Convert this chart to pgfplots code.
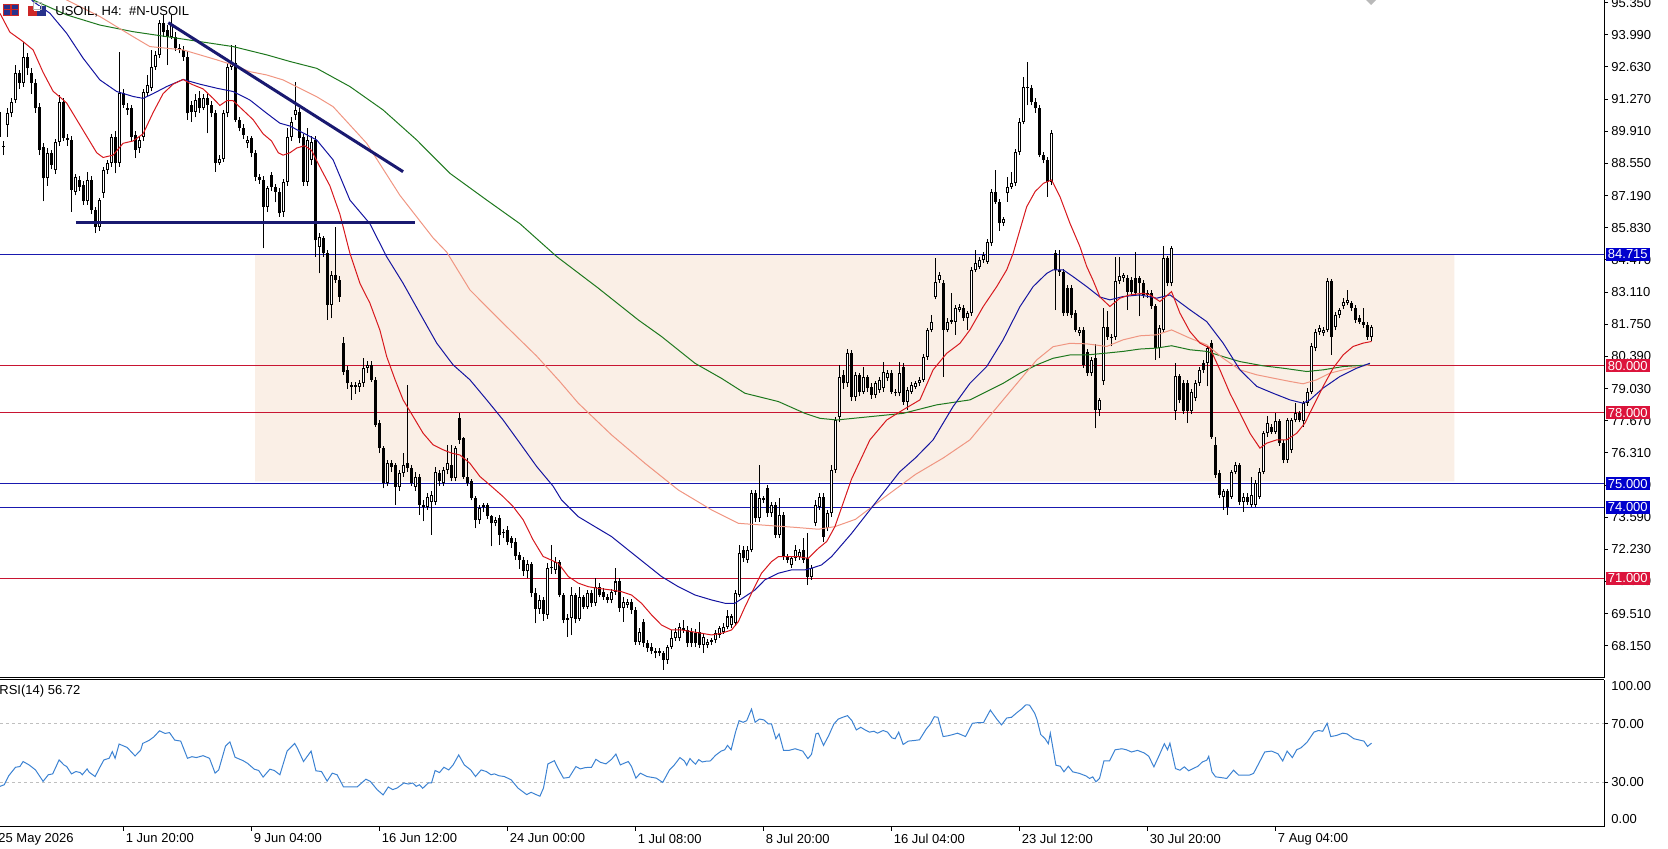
\documentclass[border=0pt]{standalone}
\usepackage{fontspec}
\setmainfont{Liberation Sans}
\usepackage{pgfplots}
\usepackage{pgfplotstable}
\pgfplotsset{compat=1.18}
\definecolor{maRed}{RGB}{215,25,30}
\definecolor{maBlue}{RGB}{20,20,160}
\definecolor{maSalmon}{RGB}{240,150,130}
\definecolor{maGreen}{RGB}{30,120,30}
\definecolor{trendNavy}{RGB}{25,25,112}
\definecolor{lvlBlue}{RGB}{25,25,175}
\definecolor{lvlRed}{RGB}{200,20,50}
\definecolor{boxBlue}{RGB}{0,0,205}
\definecolor{boxRed}{RGB}{220,20,60}
\definecolor{zoneFill}{RGB}{250,239,230}
\definecolor{rsiBlue}{RGB}{60,130,210}
\definecolor{iconRed}{RGB}{205,40,40}
\definecolor{iconBlue}{RGB}{40,50,140}

\pgfplotstableread{
n o h l c
1 89.68 91.00 89.40 90.74
2 89.26 89.50 88.90 89.30
3 90.18 90.88 89.68 90.67
4 90.67 91.30 90.50 91.16
5 91.23 92.71 91.10 92.36
6 92.36 92.50 91.70 91.94
7 91.94 93.70 91.80 93.07
8 93.07 93.20 92.30 92.57
9 92.36 92.60 91.50 91.94
10 91.94 92.10 90.70 90.88
11 90.95 91.10 88.90 89.12
12 89.26 89.40 86.94 87.92
13 87.92 89.20 87.60 88.98
14 88.98 89.10 88.30 88.49
15 88.27 89.60 88.10 89.47
16 89.47 91.45 89.30 91.16
17 91.16 91.30 89.50 89.61
18 89.61 89.80 89.30 89.54
19 89.54 89.70 86.51 87.43
20 87.36 88.10 87.20 87.99
21 87.85 88.00 87.40 87.57
22 87.64 87.80 86.80 86.94
23 86.94 88.20 86.80 87.85
24 87.85 88.00 86.40 86.58
25 86.58 86.70 85.60 85.88
26 85.88 87.10 85.70 87.01
27 87.30 88.40 87.10 88.27
28 88.27 88.70 88.10 88.56
29 88.56 89.80 88.40 89.68
30 89.68 89.90 88.13 88.56
31 88.56 93.28 88.40 91.52
32 91.52 91.70 90.90 91.02
33 90.88 91.10 90.60 90.81
34 90.88 91.00 89.50 89.68
35 89.76 89.90 88.77 89.12
36 89.19 89.70 89.00 89.54
37 89.68 91.70 89.50 91.59
38 91.52 92.29 91.40 91.87
39 91.73 93.35 91.60 92.64
40 92.64 93.30 92.50 93.14
41 93.14 94.60 93.00 94.48
42 94.48 94.83 93.90 94.12
43 94.19 94.40 92.71 93.91
44 93.91 94.83 93.80 94.41
45 93.91 94.10 93.30 93.42
46 93.42 93.60 93.20 93.35
47 93.35 93.50 92.90 93.07
48 93.07 93.30 90.40 90.67
49 91.02 91.20 90.30 90.74
50 90.74 91.50 90.50 91.23
51 91.31 91.60 90.70 90.88
52 90.88 91.50 90.80 91.31
53 91.31 91.50 89.82 91.02
54 91.02 91.20 90.50 90.67
55 90.67 90.80 88.20 88.56
56 88.58 88.90 88.50 88.73
57 88.73 90.80 88.60 90.67
58 90.67 92.80 90.50 92.64
59 92.64 93.56 92.50 92.78
60 92.78 93.56 90.30 90.39
61 90.39 90.50 89.90 90.04
62 90.04 90.20 89.60 89.76
63 89.40 89.70 89.20 89.54
64 89.61 89.70 88.80 88.98
65 88.98 89.10 87.80 87.99
66 87.99 88.10 87.70 87.85
67 87.85 88.00 84.96 86.72
68 86.72 87.60 86.50 87.50
69 88.06 88.20 87.40 87.57
70 87.57 87.70 86.90 87.36
71 87.36 87.50 86.30 86.44
72 86.51 87.90 86.30 87.78
73 87.78 90.04 87.60 89.68
74 89.68 90.50 89.50 90.32
75 90.60 92.00 90.40 90.81
76 90.74 90.90 89.40 89.61
77 89.68 89.80 87.60 87.78
78 87.78 90.04 87.60 89.54
79 88.70 89.70 88.50 89.47
80 89.54 89.70 84.60 85.30
81 85.03 85.60 83.90 85.45
82 85.39 85.50 84.60 84.75
83 84.75 84.90 81.93 82.57
84 82.57 84.00 82.00 83.84
85 83.84 85.88 83.50 83.63
86 83.63 83.80 82.70 82.92
87 80.95 81.20 79.60 79.75
88 79.80 80.00 79.00 79.25
89 79.11 79.30 78.55 79.18
90 79.18 79.30 78.80 79.11
91 79.11 79.40 78.90 79.25
92 79.25 80.30 79.10 79.89
93 79.89 80.20 79.70 80.03
94 80.03 80.20 79.30 79.40
95 79.40 79.50 77.40 77.49
96 77.56 77.70 76.30 76.51
97 76.51 76.60 74.81 75.03
98 75.03 76.00 74.90 75.87
99 75.87 76.00 75.50 75.73
100 75.80 75.90 74.11 74.88
101 74.88 75.60 74.70 75.45
102 75.45 76.29 75.30 75.80
103 75.87 79.18 75.50 75.66
104 75.66 75.80 74.90 75.03
105 74.88 75.50 74.70 75.31
106 75.31 75.40 73.69 74.11
107 74.11 74.30 73.41 74.04
108 74.04 74.60 73.90 74.46
109 74.25 74.70 72.84 74.53
110 74.25 75.70 74.10 75.52
111 75.45 75.60 74.90 75.10
112 75.03 75.70 74.90 75.59
113 75.59 76.65 75.40 75.87
114 75.80 76.65 75.10 75.24
115 75.24 76.60 75.10 76.51
116 77.77 77.98 76.70 76.86
117 76.93 77.00 75.20 75.31
118 75.31 76.08 74.90 75.03
119 75.10 75.20 74.30 74.39
120 74.39 74.50 73.12 73.48
121 73.48 74.10 73.30 73.97
122 74.11 74.20 73.80 74.04
123 74.11 74.20 73.50 73.62
124 73.62 73.70 72.35 73.33
125 73.33 73.60 73.20 73.48
126 73.55 73.70 72.42 72.84
127 72.98 73.10 72.70 72.91
128 73.05 73.20 72.40 72.56
129 72.70 72.80 72.30 72.49
130 72.56 72.70 71.80 71.93
131 72.00 72.10 71.40 71.78
132 71.78 71.90 71.10 71.30
133 71.30 71.80 71.00 71.60
134 71.60 71.70 70.20 70.40
135 70.40 70.60 69.10 69.70
136 69.70 70.30 69.50 70.10
137 70.10 70.20 69.20 69.50
138 69.46 71.64 69.30 71.43
139 71.43 72.42 71.20 71.50
140 71.36 71.90 71.20 71.71
141 71.71 71.80 70.20 70.30
142 70.30 70.40 69.10 69.24
143 69.24 69.50 68.54 69.32
144 69.32 70.65 68.60 70.30
145 70.30 70.40 69.10 69.30
146 69.30 70.65 69.20 70.23
147 70.23 70.30 69.70 69.80
148 69.81 70.50 69.70 70.37
149 70.37 70.50 69.80 69.95
150 69.95 71.01 69.85 70.65
151 70.65 70.80 70.20 70.30
152 70.44 70.60 70.10 70.23
153 70.23 70.35 69.95 70.09
154 70.09 70.55 69.95 70.44
155 70.44 71.43 70.30 70.87
156 70.87 71.00 69.60 69.74
157 69.74 70.20 69.17 70.02
158 69.88 70.15 69.75 70.02
159 70.02 70.15 69.50 69.67
160 69.67 69.80 68.20 68.33
161 68.33 68.90 68.20 68.75
162 69.17 69.30 68.10 68.26
163 68.26 68.40 67.90 68.05
164 68.12 68.25 67.80 67.91
165 67.91 68.05 67.62 67.84
166 67.84 68.05 67.70 67.91
167 67.84 67.95 67.13 67.55
168 67.55 68.20 67.40 68.12
169 68.12 68.82 68.00 68.47
170 68.47 68.90 68.35 68.75
171 68.47 69.10 68.35 68.96
172 68.82 69.24 68.70 68.89
173 68.82 69.00 68.10 68.26
174 68.75 68.90 68.10 68.26
175 68.68 68.85 68.10 68.26
176 68.75 69.17 68.05 68.19
177 68.19 68.65 67.84 68.54
178 68.19 68.45 68.05 68.33
179 68.33 68.50 68.20 68.40
180 68.40 68.80 68.25 68.68
181 68.61 69.00 68.50 68.89
182 68.75 69.10 68.65 68.96
183 68.96 69.67 68.85 69.39
184 69.03 69.50 68.90 69.39
185 69.10 70.50 69.00 70.37
186 70.30 72.42 70.20 72.06
187 72.20 72.35 71.70 71.85
188 71.78 72.35 71.65 72.20
189 72.20 74.75 72.10 74.60
190 74.60 74.75 73.40 73.54
191 73.54 75.80 73.40 74.39
192 74.39 74.50 74.20 74.32
193 74.81 74.95 73.60 73.75
194 73.75 74.25 73.60 74.11
195 74.11 74.25 72.70 72.84
196 72.84 74.39 72.70 73.68
197 73.68 73.80 71.80 71.92
198 71.92 72.05 71.65 71.78
199 71.57 71.95 71.45 71.85
200 71.85 72.42 71.75 72.20
201 71.92 72.25 71.80 72.13
202 72.20 72.70 71.65 71.78
203 71.85 72.91 70.72 71.08
204 71.08 71.55 70.95 71.43
205 73.33 74.32 73.20 74.11
206 74.04 74.60 73.90 74.46
207 74.46 74.60 72.56 72.77
208 73.12 73.90 73.00 73.75
209 73.75 75.80 73.60 75.59
210 75.59 77.84 75.45 77.70
211 77.84 80.03 77.60 79.53
212 79.60 79.80 79.00 79.25
213 79.25 80.70 79.10 80.52
214 80.52 80.66 78.50 78.69
215 78.69 79.75 78.50 79.60
216 79.60 79.70 78.70 78.90
217 78.90 79.96 78.80 79.50
218 79.50 79.60 78.90 79.04
219 79.11 79.25 78.60 78.76
220 78.76 79.35 78.65 79.25
221 78.97 79.50 78.85 79.39
222 79.04 80.17 78.90 79.75
223 79.46 79.80 79.35 79.68
224 79.68 79.80 78.80 78.90
225 78.90 79.00 78.70 78.83
226 78.83 80.17 78.70 79.68
227 79.96 80.10 78.35 78.48
228 78.48 79.10 78.13 78.97
229 78.90 79.30 78.80 79.18
230 79.11 79.35 79.00 79.25
231 79.25 79.50 79.15 79.39
232 79.39 80.50 79.30 80.38
233 80.38 81.60 80.25 81.51
234 81.51 82.14 81.40 81.86
235 82.92 84.54 82.80 83.55
236 83.62 83.95 83.50 83.83
237 83.48 83.60 79.53 81.51
238 81.51 82.00 81.40 81.86
239 81.86 83.06 81.75 81.93
240 81.86 82.55 81.30 82.42
241 82.35 82.60 82.25 82.49
242 82.42 82.55 81.90 82.00
243 82.00 82.30 81.50 82.21
244 82.21 84.15 82.10 84.05
245 84.05 84.89 83.95 84.33
246 84.19 84.60 84.10 84.47
247 84.47 84.80 84.35 84.68
248 84.40 85.35 84.30 85.24
249 85.17 87.45 85.05 87.36
250 87.36 88.27 86.85 86.93
251 86.93 87.05 85.70 86.02
252 86.05 86.30 85.90 86.19
253 87.29 87.99 86.93 87.57
254 87.57 88.20 87.45 87.71
255 87.71 89.15 87.60 89.05
256 89.05 90.45 88.90 90.32
257 90.32 92.22 90.20 91.80
258 91.73 92.85 91.00 91.80
259 91.73 91.85 91.00 91.16
260 91.16 91.30 90.70 90.88
261 90.88 91.00 88.80 88.91
262 88.91 89.05 88.55 88.70
263 88.70 88.80 87.15 87.78
264 87.78 89.96 87.65 89.82
265 84.75 84.89 82.35 84.05
266 83.97 84.89 83.80 84.05
267 83.97 84.10 82.10 82.21
268 83.27 83.40 82.10 82.21
269 83.27 83.40 82.00 82.14
270 82.21 82.35 81.40 81.51
271 81.37 81.65 81.25 81.51
272 81.51 81.65 79.90 80.03
273 80.59 80.70 79.55 79.68
274 79.68 80.35 79.55 80.24
275 80.31 80.90 77.35 78.13
276 78.13 78.65 77.85 78.55
277 79.33 82.43 79.20 81.65
278 81.65 82.29 81.10 81.23
279 81.23 81.35 80.81 81.16
280 81.23 84.61 81.10 83.56
281 83.56 84.61 83.45 83.77
282 83.70 83.91 83.55 83.84
283 83.70 83.85 82.36 83.13
284 83.63 83.75 83.00 83.13
285 83.70 84.82 82.95 83.06
286 83.70 83.80 82.08 83.49
287 83.49 83.60 82.85 82.99
288 82.99 83.20 82.85 83.06
289 83.06 83.20 82.40 82.50
290 82.50 82.60 80.24 80.74
291 80.74 81.70 80.31 81.58
292 81.51 85.04 81.40 84.54
293 84.54 84.65 83.35 83.49
294 83.49 85.04 83.35 84.96
295 78.06 80.10 77.71 79.54
296 79.54 79.65 78.40 78.55
297 79.26 79.40 77.95 78.06
298 79.26 79.40 77.57 78.06
299 78.06 79.00 77.95 78.90
300 78.62 79.40 78.50 79.26
301 79.26 79.95 79.15 79.82
302 80.10 80.25 79.70 79.82
303 80.10 80.85 79.12 80.74
304 80.95 81.10 76.90 77.00
305 76.65 77.00 75.25 75.38
306 75.45 75.60 74.40 74.53
307 74.46 74.80 73.90 74.68
308 74.68 74.80 73.69 74.04
309 74.46 75.60 74.35 75.52
310 75.52 75.94 75.40 75.80
311 75.80 75.90 74.10 74.25
312 74.25 74.60 73.83 74.46
313 74.46 74.60 74.10 74.25
314 74.11 75.31 74.00 74.53
315 74.11 75.15 74.00 75.03
316 74.46 75.65 74.35 75.52
317 75.52 77.25 75.40 77.14
318 77.14 77.85 77.00 77.57
319 77.42 77.55 77.10 77.21
320 77.21 77.99 77.10 77.64
321 77.64 77.75 76.60 76.72
322 76.72 76.85 75.87 76.01
323 76.01 77.80 75.90 77.71
324 76.44 77.80 76.30 77.71
325 77.71 78.41 77.60 77.99
326 77.99 78.10 77.60 77.71
327 77.64 78.50 77.42 78.41
328 78.41 79.05 78.30 78.90
329 78.90 80.95 78.80 80.81
330 80.74 81.55 80.60 81.44
331 81.44 81.70 81.30 81.58
332 81.37 81.65 81.25 81.51
333 81.51 83.70 81.40 83.56
334 83.56 83.65 80.45 81.23
335 81.65 82.25 81.50 82.15
336 82.15 82.45 82.00 82.36
337 82.50 82.85 82.40 82.71
338 82.64 83.20 82.55 82.78
339 82.64 82.75 82.30 82.43
340 82.43 82.55 81.80 81.93
341 82.01 82.15 81.75 81.86
342 81.86 82.43 81.60 81.72
343 81.72 81.85 81.10 81.23
344 81.23 81.70 81.02 81.65
}\candles

\pgfplotsset{
  candlebar/.style={draw=none, no marks, forget plot,
    error bars/.cd, y dir=plus, y explicit, error mark=none,
    error mark options={draw=none, fill=none, mark size=0pt}},
}

\begin{document}
\begin{tikzpicture}[font=\fontsize{6.5}{7.5}\selectfont]
\useasboundingbox (0,0) rectangle (834pt,424pt);
\begin{axis}[
  at={(0pt,85.25pt)}, anchor=south west,
  scale only axis, width=802pt, height=338.75pt,
  xmin=1.125, xmax=402.125, ymin=66.81, ymax=95.46,
  axis x line*=bottom, axis y line*=right,
  axis line style={black, line width=0.5pt},
  xtick=\empty,
  ytick={68.15,69.51,70.87,72.23,73.59,74.95,76.31,77.67,79.03,80.39,81.75,83.11,84.47,85.83,87.19,88.55,89.91,91.27,92.63,93.99,95.35},
  yticklabel={\pgfmathprintnumber[fixed,fixed zerofill,precision=3,assume math mode=true]{\tick}},
  tick align=outside, major tick length=2pt,
  tick style={black, line width=0.5pt},
  every tick label/.append style={font=\fontsize{6.5}{7.5}\selectfont},
  yticklabel style={anchor=west, inner sep=0pt, xshift=1.5pt},
  clip mode=individual,
  after end axis/.code={
    \node[fill=boxBlue, text=white, anchor=west, inner xsep=1pt, inner ysep=0pt, minimum height=6.5pt, xshift=0.75pt] at (axis cs:402.125,84.715) {84.715};
    \node[fill=boxRed, text=white, anchor=west, inner xsep=1pt, inner ysep=0pt, minimum height=6.5pt, xshift=0.75pt] at (axis cs:402.125,80) {80.000};
    \node[fill=boxRed, text=white, anchor=west, inner xsep=1pt, inner ysep=0pt, minimum height=6.5pt, xshift=0.75pt] at (axis cs:402.125,78) {78.000};
    \node[fill=boxBlue, text=white, anchor=west, inner xsep=1pt, inner ysep=0pt, minimum height=6.5pt, xshift=0.75pt] at (axis cs:402.125,75) {75.000};
    \node[fill=boxBlue, text=white, anchor=west, inner xsep=1pt, inner ysep=0pt, minimum height=6.5pt, xshift=0.75pt] at (axis cs:402.125,74) {74.000};
    \node[fill=boxRed, text=white, anchor=west, inner xsep=1pt, inner ysep=0pt, minimum height=6.5pt, xshift=0.75pt] at (axis cs:402.125,71) {71.000};
  },
]
% zone
\addplot[fill=zoneFill, draw=none] coordinates {(64.9,75.1) (364.7,75.1) (364.7,84.715) (64.9,84.715) (64.9,75.1)};
% levels
\addplot[lvlBlue, line width=0.5pt] coordinates {(1.125,84.715) (402.125,84.715)};
\addplot[lvlRed, line width=0.5pt] coordinates {(1.125,80) (402.125,80)};
\addplot[lvlRed, line width=0.5pt] coordinates {(1.125,78) (402.125,78)};
\addplot[lvlBlue, line width=0.5pt] coordinates {(1.125,75) (402.125,75)};
\addplot[lvlBlue, line width=0.5pt] coordinates {(1.125,74) (402.125,74)};
\addplot[lvlRed, line width=0.5pt] coordinates {(1.125,71) (402.125,71)};
% wicks
\addplot[candlebar, error bar style={draw=black, line width=0.5pt, line cap=butt}]
  table[x=n, y=l, y error expr={\thisrow{h}-\thisrow{l}}] {\candles};
% bear bodies
\addplot[restrict y to domain=0:1000, candlebar, error bar style={draw=black, line width=1.5pt, line cap=butt}]
  table[x=n, y expr={\thisrow{o}>=\thisrow{c} ? \thisrow{c} : -1000}, y error expr={abs(\thisrow{o}-\thisrow{c})}] {\candles};
% bull bodies outline
\addplot[restrict y to domain=0:1000, candlebar, error bar style={draw=black, line width=1.5pt, line cap=butt}]
  table[x=n, y expr={\thisrow{c}>\thisrow{o} ? \thisrow{o} : -1000}, y error expr={abs(\thisrow{c}-\thisrow{o})}] {\candles};
% bull bodies inner
\addplot[restrict y to domain=0:1000, candlebar, error bar style={draw=white, line width=0.5pt, line cap=butt}]
  table[x=n, y expr={\thisrow{c}-\thisrow{o}>0.1 ? \thisrow{o}+0.042 : -1000}, y error expr={abs(\thisrow{c}-\thisrow{o})-0.085}] {\candles};
% green MA
\addplot[maGreen, line width=0.5pt] coordinates {(3,95.9) (9.4,95.46) (17.8,94.83) (26.1,94.4) (34.4,94.12) (42.8,93.91) (51.1,93.7) (59.4,93.49) (67.8,93.14) (73.6,92.86) (80.3,92.57) (88.6,91.8) (96.9,90.81) (105.3,89.54) (113.6,88.13) (122.8,87.0) (131.1,86.0) (140.3,84.61) (150.5,83.3) (160.7,81.93) (166.5,81.23) (174.85,80.1) (181.5,79.46) (187.35,78.83) (195.7,78.48) (202.35,77.98) (206.1,77.77) (210.3,77.7) (218.6,77.84) (226.9,77.98) (235.3,78.34) (243.6,78.55) (251.9,79.25) (256.1,79.68) (260.3,80.03) (264.4,80.31) (268.6,80.45) (272.8,80.45) (277.8,80.53) (281.9,80.6) (286.1,80.7) (290.3,80.74) (294.0,80.84) (298.6,80.67) (302.8,80.6) (306.9,80.38) (311.1,80.17) (316.9,79.99) (321.9,79.89) (327.8,79.75) (331.9,79.82) (336.9,79.96) (343.6,80.03)};
% salmon MA
\addplot[maSalmon, line width=0.5pt] coordinates {(12,96.2) (17.8,95.46) (26.1,94.76) (34.4,93.91) (38.6,93.49) (42.8,93.42) (46.9,93.35) (51.1,93.14) (55.3,92.93) (59.4,92.71) (63.6,92.43) (67.8,92.29) (71.9,92.08) (80.3,91.37) (84.4,90.95) (92.8,89.4) (101.1,87.2) (109.4,85.4) (112.8,84.8) (118.6,83.2) (126.9,81.79) (135.3,80.4) (141.1,79.32) (145.7,78.41) (154.0,77.07) (162.35,75.87) (170.7,74.74) (179.0,73.9) (185.7,73.33) (191.5,73.26) (199.85,73.16) (205.7,73.08) (209.85,73.19) (215,73.5) (222,74.4) (230,75.4) (237,76.1) (243.6,76.86) (251.9,78.55) (260.3,80.24) (264.4,80.8) (268.6,80.94) (272.8,80.92) (277.8,80.81) (281.9,81.09) (286.1,81.26) (290.3,81.3) (294.0,81.51) (298.6,81.16) (302.8,80.88) (306.9,80.31) (311.1,79.82) (315.3,79.61) (319.4,79.47) (323.6,79.33) (326.9,79.23) (330.3,79.4) (333.6,79.68) (338.6,79.89) (343.6,80.03)};
% blue MA
\addplot[maBlue, line width=0.5pt] coordinates {(5,96.2) (9.4,95.4) (13.6,94.9) (17.8,94.05) (21.9,93.0) (26.1,92.08) (30.3,91.59) (34.4,91.38) (36.9,91.3) (39.4,91.5) (42.8,91.8) (46.9,92.1) (51.1,91.9) (55.3,91.73) (59.4,91.59) (63.6,91.23) (67.8,90.67) (71.1,90.25) (73.6,90.13) (80.3,89.54) (84.4,88.7) (88.6,87.0) (93.6,86.0) (97.8,84.6) (101.9,83.48) (106.1,82.21) (110.3,80.95) (114.4,80.03) (118.6,79.4) (122.8,78.55) (126.9,77.7) (131.1,76.72) (135.3,75.73) (139.4,74.9) (141.5,74.32) (145.7,73.61) (149.85,73.19) (154.0,72.77) (158.2,72.2) (162.35,71.64) (166.5,71.08) (170.7,70.65) (174.85,70.3) (179.0,70.09) (182.35,69.95) (184.85,69.95) (187.35,70.23) (189.85,70.51) (192.35,70.94) (195.7,71.22) (199.0,71.36) (202.35,71.36) (204.0,71.43) (206.5,71.57) (209.0,71.92) (214,72.9) (220,74.2) (226,75.5) (230,76.1) (234.4,76.86) (239.4,78.27) (243.6,79.25) (247.8,79.96) (251.9,81.09) (256.1,82.49) (259.4,83.34) (262.8,83.9) (264.4,84.05) (266.9,84.05) (269.4,83.76) (272.8,83.34) (276.1,82.9) (278.6,82.78) (281.9,82.92) (286.1,82.99) (290.3,82.85) (293.6,82.99) (298.6,82.36) (302.8,81.86) (306.9,80.95) (311.1,79.82) (315.3,79.12) (319.4,78.83) (323.6,78.55) (326.9,78.41) (328.6,78.55) (331.9,79.05) (336.1,79.54) (340.3,79.89) (343.6,80.1)};
% red MA
\addplot[maRed, line width=0.5pt] coordinates {(1.1,94.9) (3.6,94.1) (6.9,93.7) (9.4,93.35) (11.9,92.4) (14.4,91.6) (16.5,91.3) (17.8,91.1) (20.3,90.4) (22.8,89.7) (25.3,89.0) (26.9,88.8) (29.4,88.9) (31.9,89.4) (34.4,89.5) (36.9,89.8) (39.4,90.7) (41.9,91.5) (44.4,91.9) (46.9,92.1) (49.0,91.9) (51.9,91.7) (54.4,91.3) (56.1,91.0) (57.8,91.2) (59.4,91.2) (61.9,90.8) (64.4,90.4) (66.9,89.8) (69.0,89.5) (70.7,89.0) (71.9,88.9) (73.6,89.0) (75.3,89.2) (77.3,89.3) (79.0,89.1) (81.1,88.4) (83.6,87.6) (86.1,86.4) (88.6,84.75) (91.1,83.48) (93.6,82.64) (96.1,81.5) (97.8,80.38) (99.9,79.4) (101.9,78.55) (104.4,77.85) (106.9,77.14) (109.4,76.65) (111.9,76.44) (114.0,76.3) (116.1,76.22) (118.6,75.87) (121.1,75.31) (123.6,74.95) (126.9,74.46) (129.4,74.04) (131.9,73.48) (134.4,72.63) (136.9,71.93) (140.7,71.64) (143.2,71.08) (145.7,70.8) (148.2,70.65) (150.7,70.58) (154.0,70.51) (156.5,70.44) (159.0,70.3) (161.5,69.95) (164.0,69.46) (166.5,69.03) (169.0,68.82) (171.5,68.82) (174.0,68.75) (176.5,68.68) (179.0,68.61) (181.5,68.68) (184.0,68.82) (185.7,69.17) (187.4,69.81) (189.4,70.51) (191.5,71.22) (194.0,71.71) (195.7,71.92) (198.2,71.92) (200.7,71.92) (203.2,71.85) (205.7,72.27) (207.8,72.56) (209.85,73.19) (214,75.2) (218.6,76.86) (222.8,77.7) (226.9,78.13) (231.1,78.55) (234.4,79.82) (237.8,80.52) (241.1,80.94) (243.6,81.51) (246.9,82.49) (250.3,83.34) (252.8,84.05) (254.4,84.75) (256.1,85.74) (257.8,86.72) (259.9,87.36) (262.0,87.71) (264.0,87.85) (266.1,87.15) (268.6,86.02) (271.1,85.03) (272.8,84.19) (274.4,83.6) (276.1,82.9) (278.6,82.5) (281.1,82.85) (283.6,82.99) (286.9,83.06) (288.6,82.99) (291.1,82.71) (294.0,83.13) (296.1,82.22) (298.6,81.44) (301.1,80.95) (303.6,80.74) (306.1,79.82) (308.6,78.83) (311.1,77.99) (313.6,77.14) (316.1,76.51) (317.8,76.72) (320.3,76.86) (322.8,76.86) (325.3,77.14) (327.35,77.57) (329.4,78.27) (331.9,79.12) (334.4,79.89) (336.9,80.45) (339.4,80.81) (341.9,80.95) (344.0,81.02)};
% trend lines
\addplot[trendNavy, line width=1.5pt] coordinates {(43.2,94.5) (101.9,88.2)};
\addplot[trendNavy, line width=1.5pt] coordinates {(20.1,86.05) (104.9,86.05)};
\end{axis}

\begin{axis}[
  at={(0pt,10.75pt)}, anchor=south west,
  scale only axis, width=802pt, height=73.5pt,
  xmin=1.125, xmax=402.125, ymin=0, ymax=100,
  axis x line*=bottom, axis y line*=right,
  axis line style={black, line width=0.5pt},
  xtick={32,64,96,128,160,192,224,256,288,320},
  xticklabels={1 Jun 20:00, 9 Jun 04:00, 16 Jun 12:00, 24 Jun 00:00, 1 Jul 08:00, 8 Jul 20:00, 16 Jul 04:00, 23 Jul 12:00, 30 Jul 20:00, 7 Aug 04:00},
  ytick={30,70},
  yticklabels={30.00,70.00},
  ymajorgrids,
  grid style={black!25, line width=0.5pt, dash pattern=on 1.5pt off 1.5pt},
  tick align=outside, major tick length=2pt,
  tick style={black, line width=0.5pt},
  every tick label/.append style={font=\fontsize{6.5}{7.5}\selectfont},
  yticklabel style={anchor=west, inner sep=0pt, xshift=1.5pt},
  xticklabel style={anchor=north west, inner sep=0pt, xshift=1pt, yshift=-1.5pt},
  clip mode=individual,
  after end axis/.code={
    \draw[black, line width=0.5pt] (rel axis cs:0,1) -- (rel axis cs:1,1);
    \node[anchor=west, inner sep=0pt, xshift=3.5pt, yshift=-3.5pt] at (rel axis cs:1,1) {100.00};
    \node[anchor=west, inner sep=0pt, xshift=3.5pt, yshift=3.5pt] at (rel axis cs:1,0) {0.00};
  },
]
\addplot[rsiBlue, line width=0.5pt] coordinates {(1.1,27.3)(2.2,28.4)(3.3,34.5)(5.0,40.3)(6.1,40.8)(6.9,44.2)(8.4,41.9)(10.0,38.5)(11.9,30.7)(13.2,35.2)(14.3,35.8)(15.9,45.3)(17.1,41.9)(17.8,40.8)(19.0,35.8)(20.1,37.4)(21.2,36.7)(21.7,35.2)(22.9,39.2)(23.4,37.0)(24.9,34.0)(26.2,40.8)(27.1,45.3)(28.4,46.4)(29.2,50.9)(29.9,46.4)(30.9,56.1)(32.9,53.8)(34.9,48.0)(36.3,52.0)(36.8,56.5)(38.5,58.8)(39.6,61.0)(41.0,65.1)(42.4,63.3)(43.5,63.9)(44.8,58.8)(46.3,58.1)(48.0,46.4)(49.1,47.5)(50.2,46.9)(51.9,48.2)(53.5,46.4)(54.9,36.3)(55.8,38.5)(57.5,54.7)(58.6,57.6)(59.9,47.1)(61.9,44.8)(63.0,43.0)(64.7,39.0)(65.8,38.1)(66.9,33.6)(68.6,39.0)(69.7,38.1)(71.1,35.2)(72.9,51.3)(74.8,56.5)(75.5,53.1)(77.0,44.2)(78.9,51.3)(80.1,37.9)(81.5,37.4)(82.9,30.9)(84.2,36.3)(85.4,35.2)(87.0,26.9)(88.7,26.9)(90.4,26.9)(92.6,32.2)(93.7,30.7)(95.4,25.1)(96.9,21.5)(98.2,26.9)(99.3,25.1)(100.4,26.2)(102.1,29.6)(103.2,28.9)(104.3,29.6)(105.2,27.3)(106.0,28.4)(106.8,26.0)(108.2,29.6)(109.0,29.6)(109.9,38.1)(111.0,36.7)(112.1,40.3)(113.3,38.5)(114.4,41.9)(115.8,48.7)(117.2,41.9)(118.8,38.5)(120.0,34.0)(121.4,38.5)(122.7,37.4)(123.9,35.2)(124.7,35.8)(125.9,34.5)(127.2,34.0)(128.9,31.8)(130.6,26.2)(132.8,21.7)(133.9,23.3)(134.8,22.1)(136.1,20.6)(137.0,26.2)(138.1,42.6)(139.7,44.8)(140.6,39.7)(142.0,32.9)(143.4,33.4)(145.1,40.8)(146.2,39.2)(147.5,40.1)(149.0,40.3)(150.1,45.7)(151.2,43.7)(152.6,42.6)(154.0,45.7)(155.1,49.3)(156.2,41.9)(157.1,43.0)(158.2,44.2)(159.0,40.8)(160.1,32.9)(161.2,36.3)(162.9,34.0)(165.2,32.9)(166.8,30.0)(168.5,38.5)(169.6,41.5)(171.1,46.9)(172.2,44.6)(172.8,41.7)(173.6,46.2)(174.4,43.9)(175.0,42.4)(175.8,45.5)(176.7,43.9)(177.6,44.4)(178.7,44.6)(180.0,48.4)(181.4,51.3)(182.3,52.2)(183.0,55.2)(183.9,52.2)(185.0,64.2)(185.9,72.0)(186.9,70.9)(187.8,72.0)(189.0,79.9)(189.9,70.9)(191.0,73.1)(192.1,72.5)(193.2,69.8)(194.0,69.8)(195.1,59.7)(195.9,63.0)(197.0,51.8)(198.4,51.8)(199.9,52.9)(201.8,51.3)(203.1,46.2)(204.0,49.1)(205.1,63.0)(205.7,63.5)(207.0,55.2)(208.3,61.9)(209.6,69.8)(210.7,73.1)(211.8,74.3)(213.0,75.4)(214.1,72.0)(215.2,65.7)(216.3,67.5)(217.4,65.7)(218.5,64.2)(219.6,64.8)(220.5,63.5)(221.9,65.3)(223.0,64.2)(224.1,60.3)(224.9,59.7)(225.8,64.2)(226.9,55.8)(228.2,58.1)(229.7,58.5)(231.0,59.0)(232.7,66.4)(233.6,69.3)(234.7,74.7)(235.6,74.3)(236.9,61.2)(238.1,61.7)(239.4,62.6)(240.5,63.5)(242.5,61.2)(244.2,70.2)(245.7,70.7)(247.0,70.7)(248.7,79.2)(250.3,73.1)(251.5,69.1)(252.8,73.8)(254.0,74.3)(255.4,77.6)(256.5,79.9)(257.6,82.8)(258.5,82.6)(259.8,77.0)(260.4,72.5)(261.3,62.6)(262.4,59.7)(263.2,56.3)(263.7,63.5)(265.1,41.7)(266.2,41.0)(267.1,37.2)(268.2,41.0)(269.3,37.2)(271.0,36.1)(272.7,34.3)(273.5,32.7)(274.3,33.8)(275.1,30.4)(276.0,32.7)(277.1,44.6)(278.5,44.6)(279.9,52.2)(281.6,52.9)(282.7,52.2)(284.0,50.7)(285.5,51.8)(287.2,50.0)(288.3,47.8)(289.6,40.6)(291.1,49.5)(292.2,56.3)(293.0,52.2)(293.6,56.7)(295.0,39.4)(296.1,38.3)(297.2,40.6)(298.3,37.9)(299.4,39.4)(300.6,41.0)(301.7,43.9)(302.8,45.1)(303.3,47.8)(304.1,37.2)(305.0,33.8)(306.1,33.4)(307.8,32.7)(309.5,38.3)(310.8,34.9)(311.9,34.9)(313.4,34.9)(314.5,36.1)(316.0,43.9)(317.3,50.7)(319.0,51.3)(320.6,49.5)(321.8,44.6)(322.9,51.3)(324.2,46.9)(325.3,52.2)(326.4,53.6)(327.9,57.4)(329.6,64.2)(330.7,65.3)(331.8,64.8)(332.9,70.2)(333.8,61.2)(335.2,61.9)(336.8,63.5)(337.9,63.0)(339.6,59.7)(340.7,59.0)(342.1,58.1)(343.0,54.5)(344.0,56.72)};
\end{axis}

% header and panel captions
\node[anchor=west, inner sep=0pt] at (27.5pt,418pt) {USOIL, H4:\ \ \#N-USOIL};
\node[anchor=west, inner sep=0pt] at (-0.5pt,78.5pt) {RSI(14) 56.72};
\node[anchor=north west, inner sep=0pt] at (-1pt,7.5pt) {25 May 2026};
% chart toolbar icons
\fill[iconRed] (1.3pt,416pt) rectangle (9.7pt,422pt);
\fill[iconBlue] (2pt,419.4pt) rectangle (5.2pt,421.3pt);
\fill[iconBlue] (5.8pt,419.4pt) rectangle (9pt,421.3pt);
\fill[iconBlue] (2pt,416.7pt) rectangle (5.2pt,418.8pt);
\fill[iconBlue] (5.8pt,416.7pt) rectangle (9pt,418.8pt);
\fill[iconRed] (14pt,416pt) rectangle (18.5pt,421pt);
\fill[iconBlue] (18.5pt,416pt) rectangle (23pt,421pt);
\fill[white] (17pt,418.5pt) rectangle (20pt,421pt);
\draw[gray!60, line width=0.5pt] (16.5pt,419pt) rectangle (20.5pt,422.5pt);
\fill[gray!55] (683pt,424pt) -- (688pt,424pt) -- (685.5pt,421.5pt) -- cycle;
\end{tikzpicture}
\end{document}
